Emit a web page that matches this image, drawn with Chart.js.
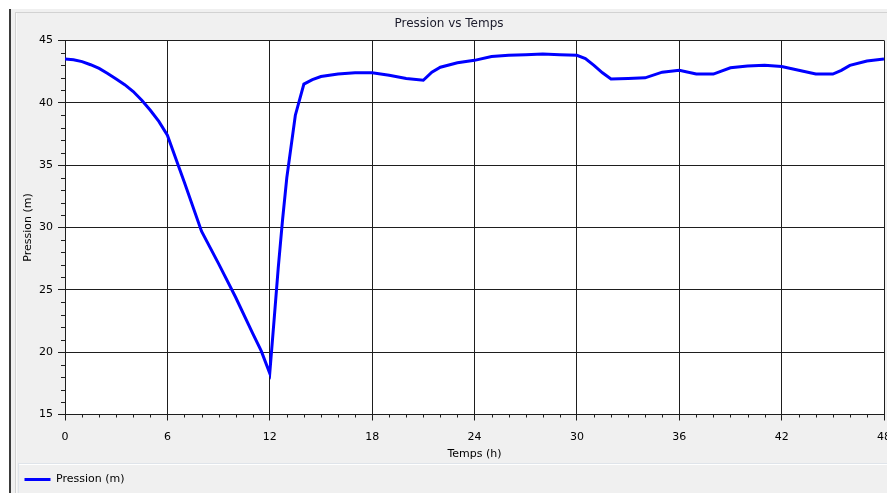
<!DOCTYPE html>
<html>
<head>
<meta charset="utf-8">
<title>Pression vs Temps</title>
<script src="https://cdn.jsdelivr.net/npm/chart.js@4"></script>
<style>
  html, body { margin: 0; padding: 0; overflow: hidden; background: #fff; }
  canvas { display: block; }
</style>
</head>
<body>
<canvas id="chart" width="895" height="493"></canvas>
<script>
// pressure (m) against time (h)
const temps = [0, 0.5, 1, 1.5, 2, 2.5, 3, 3.5, 4, 4.5, 5, 5.5, 6, 7, 8, 9, 10, 11, 11.5, 12,
  12.25, 12.5, 12.75, 13, 13.5, 14, 14.5, 15, 16, 17, 18, 19, 20, 21, 21.5, 22, 23, 24,
  25, 26, 27, 28, 29, 30, 30.5, 31, 31.5, 32, 33, 34, 35, 36, 37, 38, 39, 40, 41, 42,
  43, 44, 45, 45.5, 46, 47, 48];
const pression = [43.5, 43.45, 43.3, 43.05, 42.75, 42.35, 41.9, 41.45, 40.9, 40.2, 39.4, 38.5, 37.4, 33.6, 29.7, 27.1, 24.4, 21.5, 20.1, 18.3,
  22.5, 26.8, 30.6, 34.0, 39.0, 41.5, 41.85, 42.1, 42.3, 42.4, 42.4, 42.2, 41.95, 41.8, 42.45, 42.85, 43.2, 43.4,
  43.7, 43.8, 43.85, 43.9, 43.85, 43.8, 43.55, 43.0, 42.4, 41.9, 41.95, 42.0, 42.45, 42.6, 42.3, 42.3, 42.8, 42.95, 43.0, 42.9,
  42.6, 42.3, 42.3, 42.6, 43.0, 43.35, 43.5];
const xTickValues = [0, 6, 12, 18, 24, 30, 36, 42, 48];
const yTickValues = [15, 20, 25, 30, 35, 40, 45];

const GRID = '#1e1e1e';

Chart.defaults.font.family = 'DejaVu Sans';
Chart.defaults.font.size = 11;
Chart.defaults.color = '#000';

// window frame, panel background and legend box
const framePlugin = {
  id: 'frame',
  beforeDraw(chart) {
    const {ctx, width, height, chartArea, legend} = chart;
    ctx.save();
    ctx.fillStyle = '#ffffff';
    ctx.fillRect(0, 0, width, height);
    ctx.fillStyle = '#f0f0f0';
    ctx.fillRect(10, 9, width, height);
    ctx.fillStyle = '#3a3a3a';
    ctx.fillRect(9, 9, 2, height);
    ctx.fillStyle = '#d2d2d2';
    ctx.fillRect(15, 12, width, 1);
    ctx.fillRect(15, 12, 1, height);
    ctx.fillStyle = '#fafafa';
    ctx.fillRect(16, 13, 1, height);
    // legend box
    const lt = Math.round(legend.top) - 1;
    ctx.fillStyle = '#dfe4ea';
    ctx.fillRect(18, lt, width, 1);
    ctx.fillRect(18, lt, 1, height);
    ctx.fillStyle = '#ffffff';
    ctx.fillRect(19, lt + 1, width, 1);
    // plot background
    ctx.fillStyle = '#ffffff';
    ctx.fillRect(chartArea.left, chartArea.top, chartArea.right - chartArea.left, chartArea.bottom - chartArea.top);
    ctx.restore();
  }
};

// minor tick marks every unit on both axes
const minorTicks = {
  id: 'minorTicks',
  afterDraw(chart) {
    const {ctx, scales: {x, y}} = chart;
    ctx.save();
    ctx.strokeStyle = GRID;
    ctx.lineWidth = 1;
    ctx.beginPath();
    for (let t = x.min; t <= x.max; t++) {
      if (t % 6 === 0) continue;
      const px = Math.round(x.getPixelForValue(t)) + 0.5;
      ctx.moveTo(px, y.bottom);
      ctx.lineTo(px, y.bottom + 3);
    }
    for (let v = y.min; v <= y.max; v++) {
      if (v % 5 === 0) continue;
      const py = Math.round(y.getPixelForValue(v)) + 0.5;
      ctx.moveTo(x.left, py);
      ctx.lineTo(x.left - 4, py);
    }
    ctx.stroke();
    ctx.restore();
  }
};

new Chart(document.getElementById('chart'), {
  type: 'line',
  data: {
    datasets: [{
      label: 'Pression (m)',
      data: temps.map((t, i) => ({x: t, y: pression[i]})),
      borderColor: '#0000ff',
      backgroundColor: '#0000ff',
      borderWidth: 3,
      pointRadius: 0,
      tension: 0,
      fill: false
    }]
  },
  options: {
    responsive: false,
    animation: false,
    layout: {padding: {left: 14, right: 11, top: 12, bottom: -2}},
    plugins: {
      title: {
        display: true,
        text: 'Pression vs Temps',
        color: '#1c1c2c',
        font: {size: 12, weight: 'normal'},
        padding: {top: 5, bottom: 9}
      },
      legend: {
        position: 'bottom',
        align: 'start',
        labels: {
          usePointStyle: true,
          pointStyle: 'line',
          pointStyleWidth: 26,
          padding: 10.5,
          color: '#000'
        }
      },
      tooltip: {enabled: false}
    },
    scales: {
      x: {
        type: 'linear',
        min: 0,
        max: 48,
        afterBuildTicks: s => { s.ticks = xTickValues.map(v => ({value: v})); },
        afterFit: s => { s.height = 49; s.paddingRight = 0; s.paddingLeft = 0; },
        ticks: {padding: 10, maxRotation: 0, autoSkip: false},
        grid: {color: GRID, tickColor: GRID, tickLength: 6, lineWidth: 1},
        border: {color: GRID, width: 1},
        title: {display: true, text: 'Temps (h)', padding: {top: 0, bottom: 3}, color: '#000'}
      },
      y: {
        min: 15,
        max: 45,
        afterBuildTicks: s => { s.ticks = yTickValues.map(v => ({value: v})); },
        afterFit: s => { s.width = 51; },
        ticks: {padding: 5},
        grid: {color: GRID, tickColor: GRID, tickLength: 7, lineWidth: 1},
        border: {color: GRID, width: 1},
        title: {display: true, text: 'Pression (m)', padding: {top: 8, bottom: 0}, color: '#000'}
      }
    }
  },
  plugins: [framePlugin, minorTicks]
});
</script>
</body>
</html>
